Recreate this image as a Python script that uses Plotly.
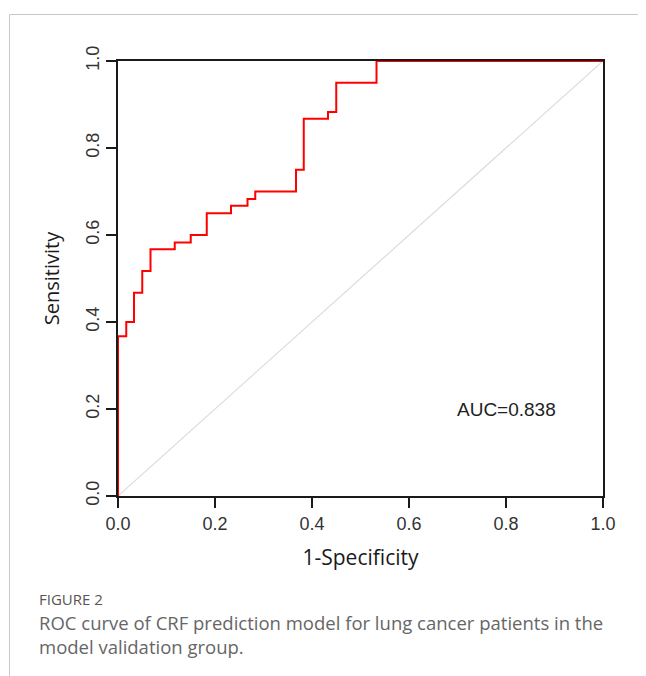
import plotly.graph_objects as go

# ROC step corners (end of each horizontal segment, level of that segment)
fpr = [0.0, 0.017, 0.033, 0.050, 0.067, 0.117, 0.150, 0.183, 0.233, 0.267,
       0.283, 0.367, 0.383, 0.433, 0.450, 0.533, 1.0]
tpr = [0.0, 0.367, 0.400, 0.467, 0.517, 0.567, 0.583, 0.600, 0.650, 0.667,
       0.683, 0.700, 0.750, 0.867, 0.883, 0.950, 1.0]
ref_x = [0.0, 1.0]
ref_y = [0.0, 1.0]
tick_vals = [0.0, 0.2, 0.4, 0.6, 0.8, 1.0]
tick_text = ["0.0", "0.2", "0.4", "0.6", "0.8", "1.0"]
auc_text = "AUC=0.838"
caption_head = "FIGURE 2"
caption_lines = ["ROC curve of CRF prediction model for lung cancer patients in the",
                 "model validation group."]

OFF = 8  # page body margin
W, H = 638, 668
PL, PR, PT, PB = 118, 603, 61, 496  # plot area in page pixels
L, T = PL - OFF, PT - OFF
R = W - (PR - OFF)
B = H - (PB - OFF)
pw, ph = PR - PL, PB - PT


def px(x):
    return (x - PL) / pw


def py(y):
    return (PB - y) / ph


fig = go.Figure()
fig.add_trace(go.Scatter(x=ref_x, y=ref_y, mode="lines",
                         line=dict(color="#dcdcdc", width=1.2),
                         hoverinfo="skip", showlegend=False))
fig.add_trace(go.Scatter(x=fpr, y=tpr, mode="lines", line_shape="vh",
                         line=dict(color="#ff0000", width=2),
                         showlegend=False))

axis_common = dict(range=[0, 1], showgrid=False, zeroline=False,
                   showline=True, linecolor="#1a1a1a", linewidth=2, mirror=True,
                   ticks="outside", ticklen=10, tickwidth=2, tickcolor="#1a1a1a",
                   tickvals=tick_vals, ticktext=tick_text,
                   tickfont=dict(family="Liberation Sans, Arial", size=18, color="#333333"))

fig.update_xaxes(**axis_common,
                 title=dict(text="1-Specificity", standoff=18,
                            font=dict(family="Open Sans", size=21, color="#1a1a1a")))
fig.update_yaxes(**axis_common, tickangle=-90,
                 title=dict(text="Sensitivity", standoff=18,
                            font=dict(family="Open Sans", size=20, color="#1a1a1a")))

annotations = [
    dict(x=0.8, y=0.2, xref="x", yref="y", text=auc_text, showarrow=False,
         font=dict(family="Liberation Sans, Arial", size=19, color="#222222")),
    dict(x=px(37), y=py(599), xref="paper", yref="paper", text=caption_head,
         showarrow=False, xanchor="left", yanchor="middle",
         font=dict(family="Open Sans", size=15, color="#555555")),
    dict(x=px(37), y=py(622), xref="paper", yref="paper", text=caption_lines[0],
         showarrow=False, xanchor="left", yanchor="middle",
         font=dict(family="Open Sans", size=18.5, color="#666666")),
    dict(x=px(37), y=py(646), xref="paper", yref="paper", text=caption_lines[1],
         showarrow=False, xanchor="left", yanchor="middle",
         font=dict(family="Open Sans", size=18.5, color="#666666")),
]

shapes = [
    dict(type="line", xref="paper", yref="paper", x0=px(9.5), x1=px(9.5),
         y0=py(14.5), y1=py(700), line=dict(color="#c8c8c8", width=1)),
    dict(type="line", xref="paper", yref="paper", x0=px(9.5), x1=px(700),
         y0=py(14.5), y1=py(14.5), line=dict(color="#c8c8c8", width=1)),
]

fig.update_layout(width=W, height=H, margin=dict(l=L, r=R, t=T, b=B),
                  paper_bgcolor="white", plot_bgcolor="white",
                  annotations=annotations, shapes=shapes)

fig.write_html("out.html")
